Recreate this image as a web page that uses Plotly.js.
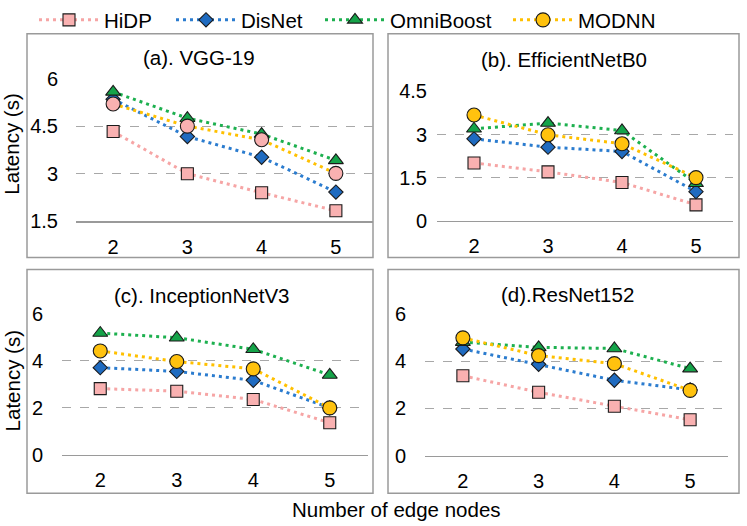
<!DOCTYPE html>
<html>
<head>
<meta charset="utf-8">
<script src="https://cdn.plot.ly/plotly-3.0.1.min.js"></script>
<style>html,body{margin:0;padding:0;background:#fff;}#chart{width:747px;height:526px;}</style>
</head>
<body>
<div id="chart"></div>
<script>
// ---------- data ----------
const nodes = [2, 3, 4, 5];
const seriesNames = ["HiDP", "DisNet", "OmniBoost", "MODNN"];
const panelTitles = ["(a). VGG-19", "(b). EfficientNetB0", "(c). InceptionNetV3", "(d).ResNet152"];

const vggHiDP      = [4.33, 3.00, 2.40, 1.83];
const vggDisNet    = [5.35, 4.17, 3.52, 2.42];
const vggOmni      = [5.58, 4.75, 4.25, 3.42];
const vggMODNN     = [5.20, 4.50, 4.07, 3.01];

const effHiDP      = [2.01, 1.70, 1.33, 0.55];
const effDisNet    = [2.85, 2.56, 2.41, 1.01];
const effOmni      = [3.20, 3.40, 3.14, 1.30];
const effMODNN     = [3.68, 2.99, 2.68, 1.50];

const incHiDP      = [2.82, 2.71, 2.36, 1.37];
const incDisNet    = [3.71, 3.55, 3.17, 2.00];
const incOmni      = [5.18, 4.98, 4.49, 3.40];
const incMODNN     = [4.42, 3.97, 3.66, 2.00];

const resHiDP      = [3.38, 2.68, 2.09, 1.52];
const resDisNet    = [4.51, 3.86, 3.19, 2.78];
const resOmni      = [4.80, 4.58, 4.53, 3.68];
const resMODNN     = [4.98, 4.23, 3.89, 2.76];

const yTicksA = [1.5, 3, 4.5, 6];
const yTicksB = [0, 1.5, 3, 4.5];
const yTicksCD = [0, 2, 4, 6];
const yRangeA = [1.5, 6];
const yRangeB = [0, 4.5];
const yRangeCD = [0, 6];

// ---------- styling ----------
const W = 747, H = 526;
const FONT = "Liberation Sans, Arial, Helvetica, sans-serif";
const lineColors = ["#F6A5A5", "#2B7CCF", "#1DB04F", "#FFC000"];
const markerColors = ["#F9B1B1", "#1F6BC0", "#15A349", "#FFC20E"];
const symbols = ["square", "diamond", "triangle-up", "circle"];
const sizes = [12, 11, 13, 14];

function xd(a, b) { return [a / W, b / W]; }
function yd(top, bottom) { return [1 - bottom / H, 1 - top / H]; }

const panels = [
  { data: [vggHiDP, vggDisNet, vggOmni, vggMODNN], x: "x", y: "y", legend: false, modnnPink: true },
  { data: [effHiDP, effDisNet, effOmni, effMODNN], x: "x2", y: "y2", legend: true },
  { data: [incHiDP, incDisNet, incOmni, incMODNN], x: "x3", y: "y3", legend: false },
  { data: [resHiDP, resDisNet, resOmni, resMODNN], x: "x4", y: "y4", legend: false }
];

const legendIds = ["legend", "legend2", "legend3", "legend4"];
const traces = [];
panels.forEach(p => {
  p.data.forEach((vals, i) => {
    let mc = markerColors[i];
    if (p.modnnPink && i === 3) mc = markerColors[0];
    traces.push({
      type: "scatter", mode: "lines+markers",
      x: nodes, y: vals, name: seriesNames[i],
      xaxis: p.x, yaxis: p.y,
      showlegend: p.legend,
      legend: legendIds[i],
      cliponaxis: false,
      line: { color: lineColors[i], width: 3, dash: "3px,4px" },
      marker: { symbol: symbols[i], size: sizes[i], color: mc, line: { color: "#1a1a1a", width: 1.1 } }
    });
  });
});

function xAxis(dom, anchor) {
  return {
    domain: dom, anchor: anchor, range: [1.5, 5.5], tickvals: nodes, ticktext: nodes.map(String),
    showgrid: false, zeroline: false, showline: true, linecolor: "#9a9a9a", linewidth: 1.5,
    ticks: "", ticklabelstandoff: 7, tickfont: { family: FONT, size: 20, color: "#000" }, fixedrange: true
  };
}
function yAxis(dom, anchor, range, ticks, standoff) {
  return {
    domain: dom, anchor: anchor, range: range, tickvals: ticks, ticktext: ticks.map(String),
    showgrid: true, gridcolor: "#a8a8a8", gridwidth: 1, griddash: "dash",
    zeroline: false, showline: false, ticks: "", ticklabelstandoff: standoff,
    tickfont: { family: FONT, size: 20, color: "#000" }, fixedrange: true
  };
}

function legendAt(px) {
  return {
    x: px / W, y: 1 - 15 / H, xanchor: "left", yanchor: "middle", orientation: "h",
    bgcolor: "rgba(0,0,0,0)", font: { family: FONT, size: 20.5, color: "#000" },
    itemwidth: 60, borderwidth: 0
  };
}

const boxes = [[27, 29, 373, 255], [388, 29, 739, 255], [27, 267, 373, 493], [388, 267, 739, 493]];
const shapes = boxes.map(b => ({
  type: "rect", xref: "paper", yref: "paper",
  x0: b[0] / W, x1: b[2] / W, y0: 1 - b[3] / H, y1: 1 - b[1] / H,
  line: { color: "#9a9a9a", width: 1.5 }, fillcolor: "rgba(0,0,0,0)", layer: "below"
}));

const titlePos = [[199, 53], [564, 55], [202, 293], [567, 292]];
const annotations = panelTitles.map((t, i) => ({
  text: t, xref: "paper", yref: "paper", x: titlePos[i][0] / W, y: 1 - titlePos[i][1] / H,
  xanchor: "center", yanchor: "middle", showarrow: false,
  font: { family: FONT, size: 20.5, color: "#000" }
}));
[[12, 141], [12, 380]].forEach(pos => annotations.push({
  text: "Latency (s)", xref: "paper", yref: "paper", x: pos[0] / W, y: 1 - pos[1] / H,
  xanchor: "center", yanchor: "middle", textangle: -90, showarrow: false,
  font: { family: FONT, size: 20.5, color: "#000" }
}));
annotations.push({
  text: "Number of edge nodes", xref: "paper", yref: "paper", x: 396 / W, y: 1 - 509 / H,
  xanchor: "center", yanchor: "middle", showarrow: false,
  font: { family: FONT, size: 20.5, color: "#000" }
});

const layout = {
  width: W, height: H, margin: { l: 0, r: 0, t: 0, b: 0 },
  paper_bgcolor: "#fff", plot_bgcolor: "rgba(0,0,0,0)",
  font: { family: FONT, color: "#000" },
  xaxis: xAxis(xd(76, 373), "y"),    yaxis: yAxis(yd(74.3, 218.3), "x", yRangeA, yTicksA, 17),
  xaxis2: xAxis(xd(437, 733), "y2"), yaxis2: yAxis(yd(87.3, 217.7), "x2", yRangeB, yTicksB, 9),
  xaxis3: xAxis(xd(62, 368), "y3"),  yaxis3: yAxis(yd(311.7, 454.3), "x3", yRangeCD, yTicksCD, 18),
  xaxis4: xAxis(xd(425, 728), "y4"), yaxis4: yAxis(yd(311.7, 455), "x4", yRangeCD, yTicksCD, 18),
  legend: legendAt(34), legend2: legendAt(171), legend3: legendAt(320), legend4: legendAt(508),
  shapes: shapes, annotations: annotations
};

Plotly.newPlot("chart", traces, layout, { staticPlot: true, displayModeBar: false });
</script>
</body>
</html>
